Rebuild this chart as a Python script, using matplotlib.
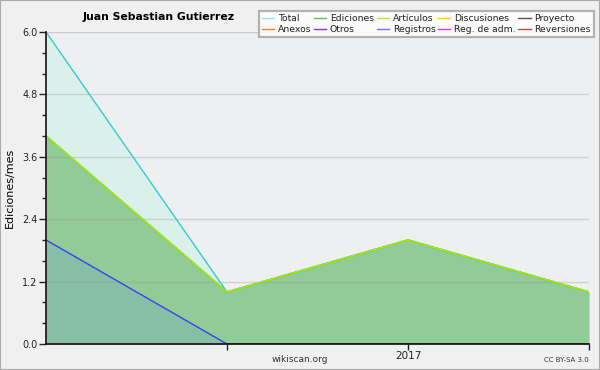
import matplotlib
matplotlib.use("Agg")
import matplotlib.pyplot as plt
from matplotlib.lines import Line2D
from matplotlib.patches import Rectangle
import numpy as np

months = ["2016-11", "2016-12", "2017-01", "2017-02"]
xtick_labels = ["", "", "2017", ""]
total = [6, 1, 2, 1]
ediciones = [4, 1, 2, 1]
articulos = [4, 1, 2, 1]
registros = [2, 0, 0, 0]

yticks = [0.0, 1.2, 2.4, 3.6, 4.8, 6.0]

legend_names = ["Total", "Ediciones", "Artículos", "Discusiones", "Proyecto",
                "Anexos", "Otros", "Registros", "Reg. de adm.", "Reversiones"]
legend_colors = ["#99e6e6", "#66bb66", "#bbee22", "#ffcc22", "#555555",
                 "#ff7733", "#8833ee", "#6677ff", "#ee33ee", "#ff3333"]

fig = plt.figure(figsize=(6, 3.7), dpi=100, facecolor="#f0f0f0")
ax = fig.add_axes([46/600, 1-344/370, (589-46)/600, (344-32)/370])
ax.set_facecolor("#eeeff1")

x = np.arange(len(months))
ax.fill_between(x, 0, total, color="#daf0eb", zorder=1, lw=0)
ax.fill_between(x, 0, ediciones, color="#91cb97", zorder=2, lw=0)
ax.fill_between(x[:2], 0, registros[:2], color="#86bfa6", zorder=3, lw=0)

ax.plot(x, total, color="#33cccc", lw=1, zorder=5)
ax.plot(x, ediciones, color="#66bb66", lw=1.3, zorder=5)
ax.plot(x, articulos, color="#aaee00", lw=1.0, zorder=6)
ax.plot(x, registros, color="#3344ee", lw=1, zorder=6)

ax.set_xlim(0, len(months) - 1)
ax.set_ylim(0, 6.0)
ax.set_yticks(yticks)
ax.set_yticklabels([f"{v:.1f}" for v in yticks])
ax.set_yticks(np.arange(0, 6.01, 0.4), minor=True)
ax.set_xticks(x[1:])
ax.set_xticklabels(xtick_labels[1:])
ax.tick_params(axis="y", which="major", direction="out", length=5, width=1,
               labelsize=7, colors="#222222", pad=1)
ax.tick_params(axis="y", which="minor", direction="out", length=3, width=1,
               colors="#222222")
ax.tick_params(axis="x", direction="out", length=4, width=1, labelsize=7.5,
               colors="#222222", pad=1)

for yv in yticks[1:-1]:
    ax.axhline(yv, color="#999999", alpha=0.35, lw=1, zorder=4)
ax.axhline(6.0, color="#cccccc", lw=1, zorder=4)

for s in ["top", "right"]:
    ax.spines[s].set_visible(False)
for s in ["left", "bottom"]:
    ax.spines[s].set_color("#111111")
    ax.spines[s].set_linewidth(1.2)
    ax.spines[s].set_zorder(10)

ax.set_ylabel("Ediciones/mes", fontsize=8, labelpad=4)
ax.yaxis.set_label_coords(-0.058, 0.5)

fig.text(159/600, 1-17/370, "Juan Sebastian Gutierrez", fontsize=7.8,
         fontweight="bold", ha="center", va="center")
fig.text(300/600, 1-360/370, "wikiscan.org", fontsize=6.5, ha="center",
         va="center", color="#333333")
fig.text(589/600, 1-360/370, "CC BY-SA 3.0", fontsize=5, ha="right",
         va="center", color="#333333")

order = [0, 5, 1, 6, 2, 7, 3, 8, 4, 9]
handles = [Line2D([], [], color=legend_colors[i], lw=1) for i in order]
labels = [legend_names[i] for i in order]
leg = fig.legend(handles, labels, ncol=5, loc="upper right",
                 bbox_to_anchor=(594/600, 1-11/370), fontsize=6.7,
                 frameon=True, fancybox=False, handlelength=1.3,
                 handletextpad=0.4, columnspacing=0.3, labelspacing=0.2,
                 borderpad=0.35, borderaxespad=0, shadow=False)
leg.get_frame().set_edgecolor("#a0a0a0")
leg.get_frame().set_facecolor("white")
leg.get_frame().set_linewidth(1.6)
for t in leg.get_texts():
    t.set_color("#222222")

fig.patches.append(Rectangle((0, 0), 1, 1, transform=fig.transFigure,
                             fill=False, edgecolor="#aaaaaa", lw=1.5))

fig.savefig("out.png", dpi=100, facecolor=fig.get_facecolor())
